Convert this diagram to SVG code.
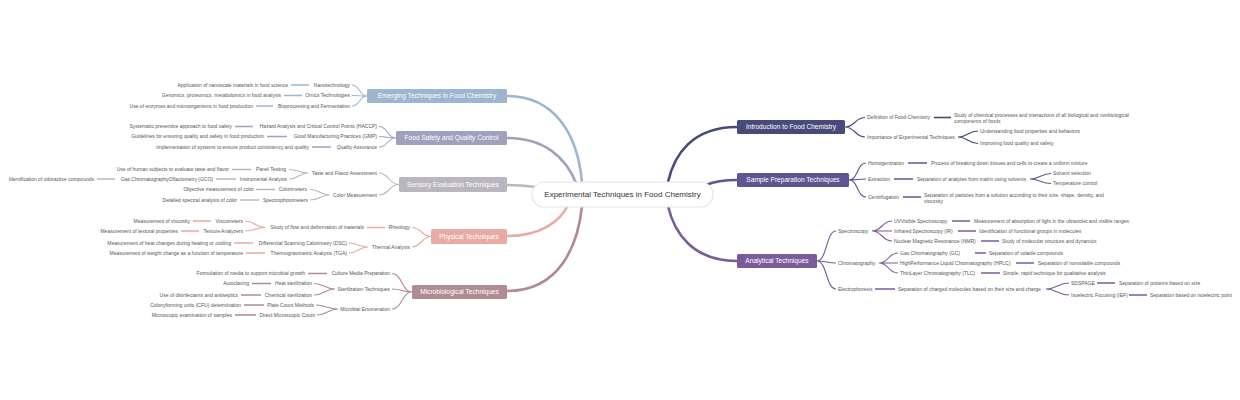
<svg xmlns="http://www.w3.org/2000/svg" width="1240" height="400" viewBox="0 0 1240 400">
<style>
text{font-family:"Liberation Sans",Arial,sans-serif}
.t{font-size:5px;fill:#555}
.e{text-anchor:end}
.b{font-size:6.6px;fill:#fff;text-anchor:middle}
.c{font-size:8px;fill:#333;text-anchor:middle}
.m{fill:none;stroke-width:2.6;stroke-linecap:round}
.s{fill:none;stroke-width:1.1}
.h{fill:none;stroke-width:1.6}
.E{stroke:#9db5d1}.F{stroke:#9ea2bc}.S{stroke:#bab6c0}.P{stroke:#e9aaa3}.M{stroke:#b18b94}
.I{stroke:#464b7b}.Q{stroke:#5f5592}.A{stroke:#7b5c9a}
</style>
<rect width="1240" height="400" fill="#fff"/>
<g id="connectors">
<path class="m E" d="M507 96 C555 96 578 135 582 183"/>
<path class="m F" d="M507 138 C545 138 566 158 576 183"/>
<path class="m S" d="M507 185 C520 185 528 186 536 187"/>
<path class="m P" d="M507 236 C540 236 560 222 568 205"/>
<path class="m M" d="M507 291 C560 291 578 245 582 206"/>
<path class="m I" d="M737 127 C692 127 674 155 668 182"/>
<path class="m Q" d="M737 180 C722 180 713 182 706 185"/>
<path class="m A" d="M737 261 C692 261 674 232 668 206"/>
<path class="s E" d="M352 85 C360 85 359 96 367 96M352 95.5 C360 95.5 359 96 367 96M352 106 C360 106 359 96 367 96"/>
<path class="h E" d="M291 85H309M284 95.5H302M256 106H273"/>
<path class="s F" d="M379 126.5 C388 126.5 387 138 396 138M379 136.5 C388 136.5 387 138 396 138M379 147 C388 147 387 138 396 138"/>
<path class="h F" d="M235 126.5H253M267 136.5H287M312 147H331"/>
<path class="s S" d="M379 173 C389 173 389 184.5 399 184.5M379 195 C389 195 389 184.5 399 184.5M289 169.5 C298 169.5 299 173 308 173M289 179 C298 179 299 173 308 173M310 189.5 C320 189.5 320 195 330 195M310 200 C320 200 320 195 330 195"/>
<path class="h S" d="M232 169.5H251M216 179H236M97 179H115M256 189.5H275M240 200H259"/>
<path class="s P" d="M412 227.5 C421 227.5 422 236.5 431 236.5M412 247 C421 247 422 236.5 431 236.5M245 221 C255 221 255 227.5 265 227.5M245 231 C255 231 255 227.5 265 227.5M349 243 C358 243 359 247 368 247M349 253 C358 253 359 247 368 247"/>
<path class="h P" d="M367 227.5H385M193 221H211M181 231H199M234 243H253M246 253H265"/>
<path class="s M" d="M392 273.5 C402 273.5 402 292 412 292M392 289 C402 289 402 292 412 292M392 309 C402 309 402 292 412 292M314 283.5 C324 283.5 325 289 335 289M314 295 C324 295 325 289 335 289M316 305 C326 305 327 309 338 309M317 315 C327 315 328 309 338 309"/>
<path class="h M" d="M308 273.5H327M252 283.5H271M241 295H261M244 305H264M235 315H256"/>
<path class="s I" d="M845 127 C855 127 855 117.5 865 117.5M845 127 C855 127 855 137 865 137M958 137 C968 137 968 131 978 131M958 137 C968 137 968 143.5 978 143.5"/>
<path class="h I" d="M934 117.5H951"/>
<path class="s Q" d="M849 180 C858 180 857 163 866 163M849 180 C858 180 857 179 866 179M849 180 C858 180 857 197 866 197M1030 179 C1040 179 1041 173.5 1051 173.5M1030 179 C1040 179 1041 183.5 1051 183.5"/>
<path class="h Q" d="M908 163H927M894 179H913M903 197H921"/>
<path class="s A" d="M817 261 C827 261 826 231 836 231M817 261 C827 261 826 263 836 263M817 261 C827 261 826 289 836 289M872 231 C882 231 882 221 892 221M872 231H892M872 231 C882 231 882 241 892 241M879 263 C889 263 888 253 898 253M879 263H898M879 263 C889 263 888 273 898 273M1046 289 C1057 289 1058 283 1069 283M1046 289 C1057 289 1058 295 1069 295"/>
<path class="h A" d="M952 221H970M958 231H976M981 241H999M975 253H986M1016 263H1034M981 273H1000M875 289H895M1097 283H1115M1129 295H1147"/>
</g>
<g id="root"><rect x="532" y="182" width="181" height="25" rx="12.5" fill="#fff" stroke="#e6e6e6" stroke-width="1.2"/><text class="c" x="622.5" y="197.3">Experimental Techniques in Food Chemistry</text></g>
<g id="emerging"><rect x="367" y="89" width="140" height="14" rx="1.5" fill="#9db5d1"/><text class="b" x="437" y="98.4">Emerging Techniques in Food Chemistry</text></g>
<g id="nano"><text class="t e" x="350" y="86.8">Nanotechnology</text></g>
<g id="nano-l"><text class="t e" x="288" y="86.8">Application of nanoscale materials in food science</text></g>
<g id="omics"><text class="t e" x="350" y="97.3">Omics Technologies</text></g>
<g id="omics-l"><text class="t e" x="281" y="97.3">Genomics, proteomics, metabolomics in food analysis</text></g>
<g id="bio"><text class="t e" x="350" y="107.8">Bioprocessing and Fermentation</text></g>
<g id="bio-l"><text class="t e" x="253" y="107.8">Use of enzymes and microorganisms in food production</text></g>
<g id="safety"><rect x="396" y="131" width="111" height="14" rx="1.5" fill="#9ea2bc"/><text class="b" x="451.5" y="140.4">Food Safety and Quality Control</text></g>
<g id="haccp"><text class="t e" x="377" y="128.3">Hazard Analysis and Critical Control Points (HACCP)</text></g>
<g id="haccp-l"><text class="t e" x="232" y="128.3">Systematic preventive approach to food safety</text></g>
<g id="gmp"><text class="t e" x="377" y="138.3">Good Manufacturing Practices (GMP)</text></g>
<g id="gmp-l"><text class="t e" x="264" y="138.3">Guidelines for ensuring quality and safety in food production</text></g>
<g id="qa"><text class="t e" x="377" y="148.8">Quality Assurance</text></g>
<g id="qa-l"><text class="t e" x="309" y="148.8">Implementation of systems to ensure product consistency and quality</text></g>
<g id="sensory"><rect x="399" y="177" width="108" height="15" rx="1.5" fill="#bab6c0"/><text class="b" x="453" y="186.9">Sensory Evaluation Techniques</text></g>
<g id="taste"><text class="t e" x="377" y="174.8">Taste and Flavor Assessment</text></g>
<g id="panel"><text class="t e" x="286" y="171.3">Panel Testing</text></g>
<g id="panel-l"><text class="t e" x="229" y="171.3">Use of human subjects to evaluate taste and flavor</text></g>
<g id="instr"><text class="t e" x="287" y="180.8">Instrumental Analysis</text></g>
<g id="gco"><text class="t e" x="213" y="180.8">Gas ChromatographyOlfactometry (GCO)</text></g>
<g id="gco-l"><text class="t e" x="94" y="180.8">Identification of odoractive compounds</text></g>
<g id="color"><text class="t e" x="377" y="196.8">Color Measurement</text></g>
<g id="colorim"><text class="t e" x="307" y="191.3">Colorimeters</text></g>
<g id="colorim-l"><text class="t e" x="254" y="191.3">Objective measurement of color</text></g>
<g id="spectro"><text class="t e" x="308" y="201.8">Spectrophotometers</text></g>
<g id="spectro-l"><text class="t e" x="237" y="201.8">Detailed spectral analysis of color</text></g>
<g id="physical"><rect x="431" y="229" width="76" height="15" rx="1.5" fill="#e9aaa3"/><text class="b" x="469" y="238.9">Physical Techniques</text></g>
<g id="rheology"><text class="t e" x="410" y="229.3">Rheology</text></g>
<g id="flow"><text class="t e" x="364" y="229.3">Study of flow and deformation of materials</text></g>
<g id="visco"><text class="t e" x="243" y="222.8">Viscometers</text></g>
<g id="visco-l"><text class="t e" x="190" y="222.8">Measurement of viscosity</text></g>
<g id="texture"><text class="t e" x="243" y="232.8">Texture Analyzers</text></g>
<g id="texture-l"><text class="t e" x="178" y="232.8">Measurement of textural properties</text></g>
<g id="thermal"><text class="t e" x="410" y="248.8">Thermal Analysis</text></g>
<g id="dsc"><text class="t e" x="347" y="244.8">Differential Scanning Calorimetry (DSC)</text></g>
<g id="dsc-l"><text class="t e" x="231" y="244.8">Measurement of heat changes during heating or cooling</text></g>
<g id="tga"><text class="t e" x="347" y="254.8">Thermogravimetric Analysis (TGA)</text></g>
<g id="tga-l"><text class="t e" x="243" y="254.8">Measurement of weight change as a function of temperature</text></g>
<g id="micro"><rect x="412" y="285" width="95" height="14" rx="1.5" fill="#b18b94"/><text class="b" x="459.5" y="294.4">Microbiological Techniques</text></g>
<g id="culture"><text class="t e" x="390" y="275.3">Culture Media Preparation</text></g>
<g id="culture-l"><text class="t e" x="305" y="275.3">Formulation of media to support microbial growth</text></g>
<g id="steril"><text class="t e" x="390" y="290.8">Sterilization Techniques</text></g>
<g id="heat"><text class="t e" x="312" y="285.3">Heat sterilization</text></g>
<g id="heat-l"><text class="t e" x="249" y="285.3">Autoclaving</text></g>
<g id="chem"><text class="t e" x="312" y="296.8">Chemical sterilization</text></g>
<g id="chem-l"><text class="t e" x="238" y="296.8">Use of disinfectants and antiseptics</text></g>
<g id="enum"><text class="t e" x="390" y="310.8">Microbial Enumeration</text></g>
<g id="plate"><text class="t e" x="314" y="306.8">Plate Count Methods</text></g>
<g id="plate-l"><text class="t e" x="241" y="306.8">Colonyforming units (CFU) determination</text></g>
<g id="direct"><text class="t e" x="315" y="316.8">Direct Microscopic Count</text></g>
<g id="direct-l"><text class="t e" x="232" y="316.8">Microscopic examination of samples</text></g>
<g id="intro"><rect x="737" y="120" width="108" height="14" rx="1.5" fill="#464b7b"/><text class="b" x="791" y="129.4">Introduction to Food Chemistry</text></g>
<g id="def"><text class="t" x="867" y="119.3">Definition of Food Chemistry</text></g>
<g id="def-l"><text class="t" x="954" y="116.8">Study of chemical processes and interactions of all biological and nonbiological</text><text class="t" x="954" y="122.8">components of foods</text></g>
<g id="imp"><text class="t" x="867" y="138.8">Importance of Experimental Techniques</text></g>
<g id="imp-1"><text class="t" x="980" y="132.8">Understanding food properties and behaviors</text></g>
<g id="imp-2"><text class="t" x="980" y="145.3">Improving food quality and safety</text></g>
<g id="sample"><rect x="737" y="173" width="112" height="14" rx="1.5" fill="#5f5592"/><text class="b" x="793" y="182.4">Sample Preparation Techniques</text></g>
<g id="homo"><text class="t" x="868" y="164.8">Homogenization</text></g>
<g id="homo-l"><text class="t" x="931" y="164.8">Process of breaking down tissues and cells to create a uniform mixture</text></g>
<g id="extr"><text class="t" x="868" y="180.8">Extraction</text></g>
<g id="extr-l"><text class="t" x="917" y="180.8">Separation of analytes from matrix using solvents</text></g>
<g id="solvent"><text class="t" x="1053" y="175.3">Solvent selection</text></g>
<g id="temp"><text class="t" x="1053" y="185.3">Temperature control</text></g>
<g id="centri"><text class="t" x="868" y="198.8">Centrifugation</text></g>
<g id="centri-l"><text class="t" x="924" y="196.8">Separation of particles from a solution according to their size, shape, density, and</text><text class="t" x="924" y="203.3">viscosity</text></g>
<g id="analytical"><rect x="737" y="254" width="80" height="14" rx="1.5" fill="#7b5c9a"/><text class="b" x="777" y="263.4">Analytical Techniques</text></g>
<g id="spectroscopy"><text class="t" x="838" y="232.8">Spectroscopy</text></g>
<g id="uv"><text class="t" x="894" y="222.8">UVVisible Spectroscopy</text></g>
<g id="uv-l"><text class="t" x="974" y="222.8">Measurement of absorption of light in the ultraviolet and visible ranges</text></g>
<g id="ir"><text class="t" x="894" y="232.8">Infrared Spectroscopy (IR)</text></g>
<g id="ir-l"><text class="t" x="979" y="232.8">Identification of functional groups in molecules</text></g>
<g id="nmr"><text class="t" x="894" y="242.8">Nuclear Magnetic Resonance (NMR)</text></g>
<g id="nmr-l"><text class="t" x="1002" y="242.8">Study of molecular structure and dynamics</text></g>
<g id="chrom"><text class="t" x="838" y="264.8">Chromatography</text></g>
<g id="gc"><text class="t" x="900" y="254.8">Gas Chromatography (GC)</text></g>
<g id="gc-l"><text class="t" x="989" y="254.8">Separation of volatile compounds</text></g>
<g id="hplc"><text class="t" x="900" y="264.8">HighPerformance Liquid Chromatography (HPLC)</text></g>
<g id="hplc-l"><text class="t" x="1038" y="264.8">Separation of nonvolatile compounds</text></g>
<g id="tlc"><text class="t" x="900" y="274.8">ThinLayer Chromatography (TLC)</text></g>
<g id="tlc-l"><text class="t" x="1003" y="274.8">Simple, rapid technique for qualitative analysis</text></g>
<g id="electro"><text class="t" x="838" y="290.8">Electrophoresis</text></g>
<g id="electro-l"><text class="t" x="898" y="290.8">Separation of charged molecules based on their size and charge</text></g>
<g id="sds"><text class="t" x="1071" y="284.8">SDSPAGE</text></g>
<g id="sds-l"><text class="t" x="1119" y="284.8">Separation of proteins based on size</text></g>
<g id="ief"><text class="t" x="1071" y="296.8">Isoelectric Focusing (IEF)</text></g>
<g id="ief-l"><text class="t" x="1150" y="296.8">Separation based on isoelectric point</text></g>
</svg>
